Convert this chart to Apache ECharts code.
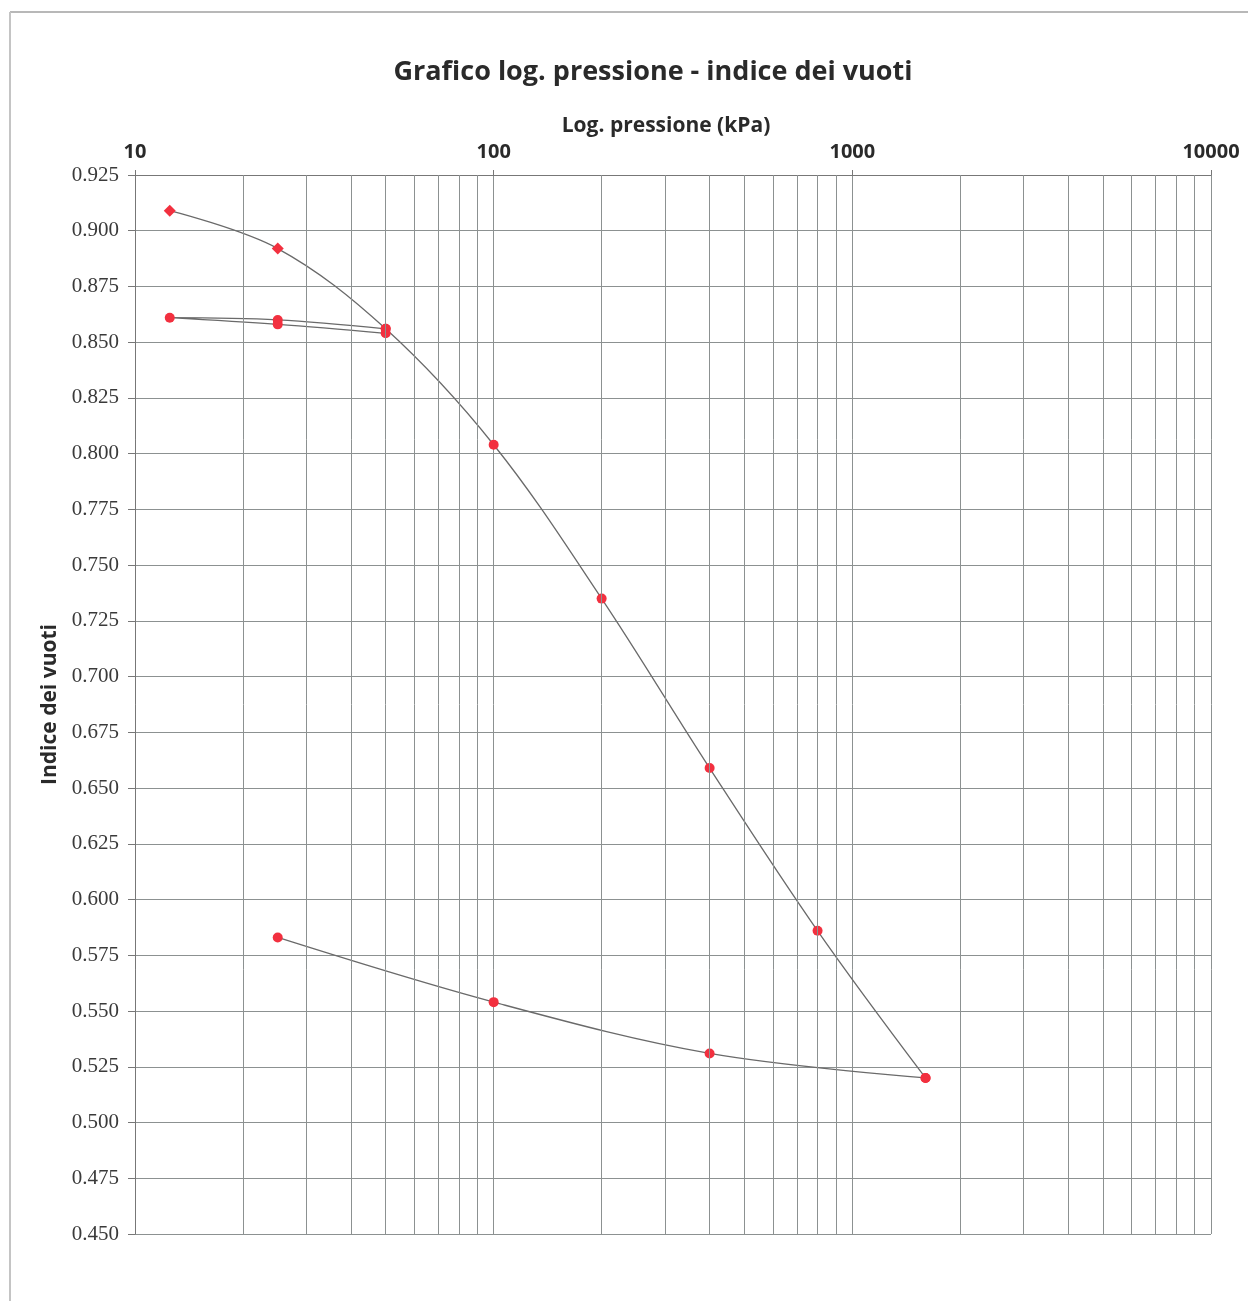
<!DOCTYPE html>
<html>
<head>
<meta charset="utf-8">
<script src="https://cdn.jsdelivr.net/npm/echarts@6/dist/echarts.min.js"></script>
<style>
html,body{margin:0;padding:0;background:#fff;}
#chart{width:1248px;height:1301px;}
</style>
</head>
<body>
<div id="chart"></div>
<script>
// ---- data ----
const titleText = 'Grafico log. pressione - indice dei vuoti';
const xName = 'Log. pressione (kPa)';
const yName = 'Indice dei vuoti';

const pressLoad = [12.5, 25, 50, 100, 200, 400, 800, 1600];
const eLoad     = [0.909, 0.892, 0.856, 0.804, 0.735, 0.659, 0.586, 0.520];

const pressLoop = [50, 25, 12.5, 25, 50];
const eLoop     = [0.856, 0.860, 0.861, 0.858, 0.854];

const pressUnload = [1600, 400, 100, 25];
const eUnload     = [0.520, 0.531, 0.554, 0.583];

const minorX = [20,30,40,50,60,70,80,90,200,300,400,500,600,700,800,900,2000,3000,4000,5000,6000,7000,8000,9000];
const diamondPoints = [12.5, 25]; // loading points drawn as diamonds

// ---- chart ----
const RED = '#f2303f';
const LINE = '#6a6a6a';
const GRID = '#8c9191';

function pts(xs, ys, useDiamond) {
  return xs.map((x, i) => {
    const d = { value: [x, ys[i]] };
    if (useDiamond && diamondPoints.includes(x)) { d.symbol = 'diamond'; d.symbolSize = 12; }
    return d;
  });
}

const lineSeries = (data) => ({
  type: 'line',
  data: data,
  smooth: 0.35,
  symbol: 'circle',
  symbolSize: 10,
  itemStyle: { color: RED },
  lineStyle: { color: LINE, width: 1.3 },
  animation: false,
  z: 3
});

const chart = echarts.init(document.getElementById('chart'), null, { renderer: 'canvas' });
chart.setOption({
  backgroundColor: '#fff',
  animation: false,
  title: {
    text: titleText,
    left: 648, top: 54, textAlign: 'center',
    textStyle: { fontFamily: 'Open Sans', fontWeight: 'bold', fontSize: 27, color: '#2a2a2a' }
  },
  graphic: [
    { type: 'line', shape: { x1: 10, y1: 12, x2: 1248, y2: 12 }, style: { stroke: '#b8b8b8', lineWidth: 2 } },
    { type: 'line', shape: { x1: 10, y1: 12, x2: 10, y2: 1301 }, style: { stroke: '#c4c4c4', lineWidth: 2 } }
  ],
  grid: { left: 135, top: 175, width: 1076, height: 1059, show: false },
  xAxis: {
    type: 'log', logBase: 10, min: 10, max: 10000,
    position: 'top',
    name: xName, nameLocation: 'middle', nameGap: 38,
    nameTextStyle: { fontFamily: 'Open Sans', fontWeight: 'bold', fontSize: 21, color: '#2a2a2a', padding: [0, 14, 0, 0] },
    axisLine: { show: true, lineStyle: { color: '#777', width: 1 } },
    axisTick: { show: true, length: 5, lineStyle: { color: '#777' } },
    axisLabel: {
      fontFamily: 'Open Sans', fontWeight: 'bold', fontSize: 20, color: '#2a2a2a', margin: 13,
      formatter: v => String(Math.round(v))
    },
    splitLine: { show: true, lineStyle: { color: GRID, width: 1 } }
  },
  yAxis: {
    type: 'value', min: 0.45, max: 0.925, interval: 0.025,
    name: yName, nameLocation: 'middle', nameGap: 72, nameRotate: 90,
    nameTextStyle: { fontFamily: 'Open Sans', fontWeight: 'bold', fontSize: 21, color: '#2a2a2a' },
    axisLine: { show: true, lineStyle: { color: '#777', width: 1 } },
    axisTick: { show: true, length: 7, lineStyle: { color: '#777' } },
    axisLabel: {
      fontFamily: 'Liberation Serif', fontSize: 21, color: '#3a3a3a', margin: 16,
      formatter: v => v.toFixed(3)
    },
    splitLine: { show: true, lineStyle: { color: GRID, width: 1 } }
  },
  series: [
    {
      type: 'line', data: [], silent: true, animation: false,
      markLine: {
        silent: true, animation: false,
        symbol: ['none', 'none'],
        label: { show: false },
        lineStyle: { type: 'solid', color: GRID, width: 1 },
        data: minorX.map(v => ({ xAxis: v }))
      },
      z: 1
    },
    lineSeries(pts(pressLoad, eLoad, true)),
    lineSeries(pts(pressLoop, eLoop, false)),
    lineSeries(pts(pressUnload, eUnload, false))
  ]
});
</script>
</body>
</html>
